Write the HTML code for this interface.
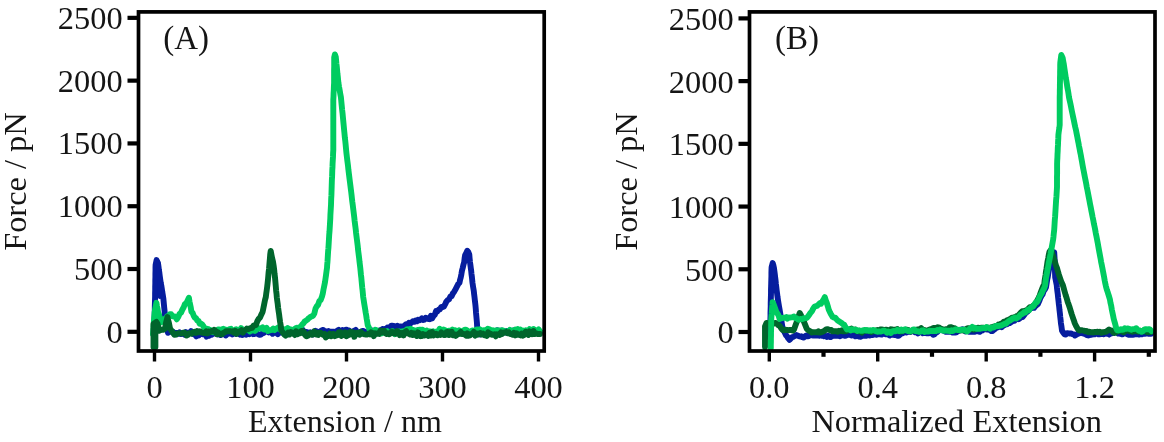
<!DOCTYPE html>
<html><head><meta charset="utf-8"><title>Force extension</title>
<style>html,body{margin:0;padding:0;background:#fff}svg{display:block}</style></head>
<body>
<svg width="1164" height="442" viewBox="0 0 1164 442" font-family="'Liberation Serif', 'Times New Roman', serif" font-size="32.4" fill="#151515">
<rect width="1164" height="442" fill="#fff"/>
<g>
<polyline points="154.2,334.0 154.3,330.6 154.4,327.2 154.4,323.8 154.5,320.4 154.6,317.0 154.7,313.6 154.8,310.2 154.8,306.8 154.9,303.4 155.0,300.0 155.1,296.7 155.1,293.4 155.2,290.2 155.2,286.9 155.3,283.6 155.3,280.4 155.4,277.1 155.4,273.8 155.5,270.5 155.5,267.3 155.6,264.8 156.6,260.1 158.0,263.2 158.5,266.7 158.9,270.1 159.4,273.1 159.8,276.3 160.3,279.8 160.8,283.1 161.3,285.5 161.8,288.6 162.3,292.1 162.8,294.9 163.3,298.1 163.6,301.1 163.9,304.3 164.2,307.5 164.5,310.2 164.8,313.6 165.1,316.5 165.4,319.3 165.7,322.0 166.0,325.0 166.7,326.7 167.3,329.8 168.0,332.8 169.3,330.9 170.6,331.7 171.8,331.6 173.1,331.6 174.4,334.0 175.7,333.0 177.0,332.9 178.2,333.7 179.5,332.4 180.8,334.0 182.1,333.2 183.4,334.0 184.6,334.7 185.9,332.2 187.2,333.4 188.5,333.3 189.8,333.0 191.0,331.1 192.3,333.4 193.6,334.1 194.9,334.5 196.2,336.3 197.4,335.3 198.7,335.5 200.0,332.4 201.3,332.2 202.6,334.2 203.9,333.8 205.2,333.7 206.5,336.6 207.7,335.1 209.0,335.8 210.3,334.9 211.6,334.8 212.9,333.3 214.2,333.6 215.5,332.1 216.8,331.8 218.1,334.4 219.4,333.2 220.6,335.0 221.9,334.2 223.2,334.3 224.5,332.2 225.8,335.4 227.1,333.2 228.4,333.7 229.7,333.2 231.0,333.3 232.3,334.4 233.5,333.7 234.8,332.5 236.1,333.8 237.4,332.5 238.7,333.4 240.0,334.6 241.3,332.6 242.6,335.0 243.9,334.0 245.2,332.5 246.5,334.6 247.8,333.3 249.1,334.1 250.4,331.4 251.7,331.2 253.0,334.2 254.3,334.0 255.7,331.7 257.0,333.8 258.3,334.2 259.6,334.8 260.9,334.6 262.2,333.5 263.5,333.0 264.8,332.1 266.1,331.3 267.4,331.4 268.7,332.4 270.0,331.8 271.3,332.2 272.6,333.7 273.9,331.4 275.2,332.4 276.5,332.9 277.8,334.2 279.1,332.5 280.4,330.7 281.7,332.5 283.0,331.2 284.3,332.9 285.7,331.8 287.0,333.3 288.3,333.3 289.6,333.1 290.9,332.2 292.2,332.0 293.5,333.0 294.8,333.1 296.1,332.9 297.4,332.4 298.7,333.3 300.0,331.8 301.3,329.6 302.6,329.6 303.9,333.2 305.2,332.1 306.5,331.9 307.7,332.4 309.0,334.3 310.3,332.3 311.6,333.9 312.9,334.5 314.2,333.3 315.5,330.9 316.8,331.5 318.1,331.9 319.4,332.5 320.6,331.0 321.9,330.3 323.2,329.9 324.5,331.1 325.8,331.3 327.1,331.7 328.4,331.0 329.7,333.4 331.0,331.8 332.3,331.7 333.5,331.6 334.8,332.0 336.1,331.8 337.4,330.5 338.7,329.8 340.0,331.0 341.3,331.8 342.6,330.2 343.9,331.8 345.2,329.8 346.5,329.6 347.8,331.8 349.1,330.6 350.4,331.9 351.7,331.6 353.0,333.5 354.3,330.8 355.7,329.9 357.0,332.4 358.3,332.4 359.6,332.8 360.9,333.5 362.2,330.9 363.5,330.9 364.8,331.7 366.1,332.7 367.4,332.3 368.7,331.4 370.0,332.4 371.2,331.7 372.5,330.5 373.8,331.2 375.0,331.0 376.2,331.4 377.5,332.1 378.8,331.9 380.0,330.3 381.2,331.6 382.5,329.0 383.8,329.1 385.0,329.0 386.2,329.3 387.5,327.5 388.8,329.5 390.0,328.5 391.2,325.6 392.5,325.6 393.8,326.3 395.0,326.1 396.2,327.5 397.5,326.0 398.8,327.6 400.0,326.5 401.3,326.7 402.6,326.5 403.9,326.2 405.1,324.9 406.4,324.1 407.7,324.5 409.0,322.8 410.3,323.3 411.6,322.6 412.9,321.2 414.2,321.8 415.5,320.5 416.8,321.3 418.0,319.8 419.3,320.4 420.6,319.7 421.9,318.3 423.2,320.0 424.5,319.6 425.8,317.7 427.1,318.2 428.4,319.0 429.6,319.2 430.9,315.8 432.2,318.3 433.5,316.1 434.8,314.7 436.0,311.1 437.3,311.4 438.6,309.7 439.9,309.4 441.3,306.9 442.6,307.1 443.9,306.5 445.2,304.1 446.5,301.4 447.8,300.0 449.1,299.2 450.4,296.5 451.6,296.1 452.9,293.4 454.2,291.7 455.5,289.3 456.9,286.6 458.2,284.1 459.5,282.7 460.1,279.7 460.8,277.2 461.4,274.1 462.0,270.5 462.7,268.0 463.5,264.5 464.2,262.1 464.6,258.3 465.1,255.2 466.2,253.2 467.3,250.7 468.3,252.0 469.3,254.6 469.6,258.2 470.0,262.1 470.4,265.0 470.8,268.2 471.2,271.0 471.5,274.1 471.9,277.0 472.2,280.0 472.5,282.9 473.1,286.9 473.8,291.1 474.1,293.9 474.5,297.2 474.8,299.8 475.2,303.1 475.5,305.9 475.8,309.2 476.0,312.5 476.3,315.8 476.6,319.1 476.9,322.4 477.1,325.7 477.4,329.8 479.0,332.4 480.3,334.5 481.6,333.6 482.9,331.7 484.2,331.5 485.6,331.5 486.9,331.8 488.2,332.7 489.5,330.6 490.8,330.7 492.1,332.8 493.4,331.6 494.8,332.1 496.1,330.9 497.4,330.2 498.7,331.2 500.0,331.2 501.3,330.6 502.6,332.5 503.9,332.1 505.2,332.5 506.5,331.2 507.7,332.8 509.0,330.8 510.3,331.5 511.6,332.6 512.9,330.6 514.2,331.7 515.5,333.7 516.8,333.8 518.1,332.9 519.4,333.1 520.6,333.3 521.9,333.1 523.2,333.3 524.5,331.2 525.8,333.2 527.1,333.5 528.4,333.1 529.7,333.1 531.0,330.6 532.3,333.3 533.5,333.2 534.8,331.1 536.1,331.9 537.4,332.7 538.7,331.5 540.0,332.0" fill="none" stroke="#061d9e" stroke-width="5.9" stroke-linejoin="round" stroke-linecap="round"/>
<polyline points="158.3,262 159.8,297" fill="none" stroke="#061d9e" stroke-width="4" stroke-linecap="round"/>
<polyline points="153.0,334.0 153.2,330.8 153.5,327.7 153.7,324.6 153.9,321.4 154.1,318.3 154.4,315.1 154.6,312.5 155.2,308.8 155.8,305.7 156.4,302.8 156.9,305.8 157.5,308.4 158.0,312.0 159.0,314.6 160.0,318.6 161.0,322.4 162.2,321.3 163.5,321.5 164.8,318.7 166.0,318.9 167.3,316.1 168.7,315.9 170.0,314.1 171.1,314.1 172.3,316.2 173.4,316.1 174.5,316.3 175.7,317.4 176.8,319.3 178.2,317.0 179.6,313.8 181.0,312.7 182.3,309.8 183.7,307.3 185.0,303.9 186.3,303.3 187.6,300.6 188.9,297.8 189.5,301.5 190.2,304.9 190.8,307.7 191.4,311.6 192.6,312.8 193.7,315.7 194.9,317.8 196.1,318.3 197.3,320.5 198.5,321.0 199.7,323.8 200.9,323.5 202.3,324.6 203.6,326.5 205.0,329.6 206.3,328.6 207.7,328.8 209.0,329.6 210.3,329.8 211.6,331.8 212.9,332.2 214.1,331.2 215.4,330.6 216.7,330.5 218.0,329.4 219.3,329.4 220.6,329.9 221.9,329.5 223.1,328.9 224.4,331.7 225.7,329.7 227.0,330.5 228.3,329.8 229.6,329.1 230.9,328.8 232.1,330.6 233.4,330.4 234.7,330.2 236.0,329.3 237.3,331.8 238.6,330.2 239.9,330.5 241.1,328.1 242.4,329.8 243.7,329.9 245.0,330.2 246.2,329.5 247.5,329.4 248.8,330.4 250.0,331.4 251.2,329.1 252.5,330.4 253.8,329.1 255.0,330.8 256.2,330.0 257.5,327.9 258.8,328.1 260.0,328.6 261.3,328.4 262.6,327.3 263.9,329.5 265.3,329.2 266.6,327.9 267.9,331.0 269.2,330.1 270.5,330.2 271.9,329.9 273.2,328.6 274.5,330.0 275.8,328.8 277.1,328.4 278.4,327.4 279.8,329.4 281.1,328.0 282.4,328.9 283.7,329.1 285.0,330.2 286.3,329.5 287.6,328.2 289.0,329.8 290.3,329.3 291.6,329.6 292.9,330.5 294.2,329.5 295.6,328.3 296.9,327.8 298.2,328.3 299.5,327.2 300.8,326.6 302.1,324.7 303.4,323.4 304.7,321.5 306.0,320.6 307.4,319.6 308.8,318.2 310.2,317.1 311.6,316.3 313.0,315.9 314.3,313.6 315.5,308.6 316.8,306.2 318.1,304.7 319.4,300.9 320.7,300.0 322.0,296.5 322.8,293.4 323.5,289.5 324.2,286.2 325.0,282.2 325.5,278.7 326.0,275.3 326.5,271.3 327.0,267.9 327.2,264.7 327.5,261.4 327.7,258.1 327.9,254.8 328.1,251.6 328.4,248.3 328.6,245.1 328.8,241.6 329.0,238.4 329.2,235.0 329.5,231.6 329.7,228.3 329.9,225.0 330.1,221.7 330.3,218.3 330.4,215.0 330.6,211.6 330.8,208.3 331.0,205.0 331.1,201.8 331.2,198.6 331.4,195.4 331.5,192.3 331.6,189.1 331.7,185.9 331.8,182.7 331.9,179.5 332.1,176.4 332.2,173.2 332.3,170.0 332.5,166.7 332.6,163.4 332.8,160.0 333.0,156.7 333.1,153.3 333.3,150.0 333.3,146.7 333.3,143.3 333.3,140.0 333.3,136.7 333.3,133.3 333.3,130.0 333.3,126.7 333.3,123.3 333.3,120.0 333.3,116.7 333.3,113.3 333.3,110.0 333.3,106.7 333.3,103.3 333.3,100.0 333.5,96.5 333.6,93.2 333.8,89.8 333.9,86.4 334.1,83.0 334.1,79.8 334.1,76.5 334.1,73.3 334.1,70.0 334.2,66.7 334.2,63.5 334.2,60.2 334.2,57.4 334.9,54.4 335.8,57.0 336.1,60.3 336.4,63.6 336.8,66.9 337.1,70.0 337.4,73.4 337.8,76.7 338.1,79.7 338.4,82.7 339.0,86.5 339.6,89.7 340.3,93.9 340.9,97.1 341.2,100.3 341.5,103.4 341.8,106.4 342.1,109.5 342.5,112.8 342.8,116.0 343.1,119.3 343.4,122.4 343.7,125.5 344.0,128.8 344.3,131.7 344.6,134.9 344.9,138.2 345.3,141.2 345.6,144.3 345.9,147.6 346.2,150.8 346.5,153.6 346.9,157.0 347.3,160.3 347.7,163.3 348.1,166.7 348.4,169.7 348.8,172.8 349.2,176.2 349.6,179.3 350.0,182.5 350.4,185.6 350.8,188.8 351.2,192.0 351.6,195.3 351.9,198.2 352.3,201.7 352.7,204.6 353.1,207.8 353.5,211.1 353.9,214.3 354.3,217.6 354.6,220.6 355.0,223.8 355.4,226.8 355.8,230.1 356.1,233.1 356.5,236.3 356.9,239.5 357.3,242.7 357.7,245.8 358.0,249.2 358.4,252.4 358.8,255.5 359.2,258.6 359.5,261.7 359.9,264.9 360.3,268.1 360.6,271.2 360.9,274.4 361.3,277.5 361.6,281.0 361.9,284.1 362.2,287.3 362.6,290.7 362.9,294.0 363.2,297.1 363.7,300.3 364.2,303.5 364.7,306.4 365.2,309.4 365.7,312.7 366.2,315.5 366.7,319.0 367.2,321.7 367.7,325.1 368.9,327.5 370.0,330.9 371.3,333.1 372.6,331.3 373.9,332.0 375.3,329.8 376.6,330.3 377.9,332.6 379.2,331.9 380.5,331.0 381.8,333.3 383.2,332.4 384.5,331.9 385.8,331.7 387.1,331.1 388.4,333.6 389.7,332.8 391.1,332.6 392.4,331.1 393.7,332.0 395.0,334.1 396.3,332.5 397.6,331.9 398.9,331.4 400.3,331.9 401.6,331.6 402.9,331.2 404.2,331.6 405.5,330.5 406.8,329.4 408.2,329.1 409.5,330.4 410.8,328.8 412.1,331.9 413.4,330.0 414.7,331.0 416.1,330.7 417.4,330.0 418.7,330.1 420.0,329.6 421.3,329.8 422.6,329.6 423.9,332.0 425.2,331.5 426.5,330.6 427.8,332.7 429.1,331.3 430.4,331.5 431.7,331.6 433.0,331.3 434.3,332.6 435.7,331.8 437.0,331.7 438.3,331.4 439.6,328.7 440.9,330.5 442.2,332.2 443.5,329.6 444.8,330.0 446.1,331.1 447.4,331.7 448.7,330.7 450.0,330.7 451.3,332.4 452.6,329.6 453.9,330.9 455.2,330.2 456.5,331.3 457.8,331.7 459.1,330.3 460.4,333.6 461.7,332.8 463.0,330.8 464.3,330.0 465.7,329.7 467.0,330.4 468.3,331.7 469.6,332.7 470.9,331.4 472.2,330.5 473.5,330.7 474.8,332.7 476.1,329.7 477.4,329.5 478.7,331.4 480.0,329.4 481.3,330.2 482.6,331.4 483.9,330.1 485.2,330.4 486.5,330.2 487.8,328.7 489.1,329.2 490.4,329.9 491.7,332.6 493.0,330.2 494.3,330.7 495.7,330.8 497.0,330.2 498.3,330.6 499.6,330.5 500.9,330.6 502.2,330.2 503.5,330.8 504.8,331.7 506.1,331.8 507.4,331.2 508.7,332.6 510.0,329.9 511.3,330.7 512.6,332.1 513.9,330.4 515.2,329.5 516.5,330.5 517.8,329.1 519.1,331.0 520.4,329.6 521.7,331.3 523.0,330.5 524.3,331.3 525.7,330.3 527.0,332.0 528.3,331.1 529.6,329.2 530.9,331.3 532.2,331.8 533.5,329.0 534.8,330.9 536.1,330.2 537.4,331.0 538.7,329.5 540.0,331.2" fill="none" stroke="#00cc60" stroke-width="5.9" stroke-linejoin="round" stroke-linecap="round"/>
<polyline points="155.4,347.0 155.4,343.6 155.4,340.2 155.4,336.8 155.4,333.4 155.4,330.1 155.0,333.0 154.6,336.5 154.3,339.8 153.9,343.5 153.5,347.0 153.5,343.5 153.5,340.0 153.5,336.5 153.5,333.0 153.5,329.5 153.5,323.9 155.3,322.7 156.4,321.9 157.5,323.8 158.2,326.5 159.0,330.8 160.5,330.1 162.0,329.7 163.5,329.8 165.0,328.6 165.6,325.2 166.2,322.0 166.9,319.4 167.5,317.0 168.1,320.0 168.8,322.3 169.4,325.3 170.0,328.4 171.5,330.6 173.0,332.7 174.5,334.9 176.0,334.7 177.3,333.6 178.7,333.2 180.0,333.3 181.3,333.5 182.6,332.9 183.9,332.5 185.3,333.2 186.6,335.5 187.9,334.9 189.2,333.2 190.5,333.1 191.8,333.7 193.2,332.3 194.5,331.8 195.8,332.8 197.1,331.2 198.4,332.2 199.7,331.2 201.1,332.2 202.4,332.7 203.7,333.0 205.0,333.1 206.3,331.4 207.6,333.4 208.9,331.6 210.3,332.0 211.6,330.9 212.9,331.5 214.2,329.8 215.5,330.9 216.8,334.3 218.2,332.3 219.5,334.4 220.8,334.1 222.1,334.2 223.4,332.8 224.7,332.6 226.1,331.1 227.4,331.1 228.7,331.2 230.0,331.2 231.3,331.5 232.6,331.3 233.9,332.7 235.2,330.8 236.5,333.9 237.8,332.5 239.1,331.5 240.4,331.8 241.7,330.2 243.0,332.6 244.3,330.8 245.6,330.0 246.9,328.6 248.2,329.3 249.5,328.5 250.8,328.0 252.1,327.8 253.4,325.8 254.7,325.2 256.0,325.0 257.3,321.3 258.6,319.0 260.0,317.7 261.3,314.6 262.6,312.0 263.4,308.1 264.2,304.1 265.0,300.0 265.8,297.1 266.2,293.8 266.7,290.3 267.2,286.6 267.6,283.1 268.0,279.4 268.3,275.9 268.6,272.3 269.0,269.1 269.3,265.5 269.6,261.8 269.9,258.4 270.2,254.4 270.7,250.9 271.5,255.1 272.2,258.5 273.0,261.8 273.6,265.5 274.2,269.9 274.5,273.4 274.9,276.5 275.2,279.6 275.5,282.9 275.8,286.4 276.1,290.3 276.5,293.6 276.8,297.3 277.2,300.3 277.7,303.9 278.1,307.6 278.6,311.2 279.1,314.4 279.5,317.7 280.1,322.0 280.7,325.3 281.3,330.4 283.0,332.8 284.3,334.5 285.6,335.7 286.9,334.4 288.2,332.6 289.5,334.5 290.8,332.1 292.2,332.5 293.5,333.7 294.8,335.0 296.1,331.2 297.4,334.2 298.7,333.4 300.0,333.4 301.3,331.0 302.6,331.0 303.9,331.9 305.2,335.1 306.5,336.3 307.7,335.8 309.0,334.2 310.3,333.2 311.6,334.7 312.9,334.6 314.2,331.4 315.5,332.4 316.8,334.7 318.1,335.0 319.4,332.7 320.6,332.7 321.9,333.9 323.2,334.9 324.5,333.9 325.8,337.5 327.1,335.5 328.4,335.9 329.7,333.6 331.0,336.3 332.3,335.4 333.5,333.9 334.8,336.1 336.1,335.4 337.4,335.4 338.7,332.4 340.0,332.0 341.3,335.9 342.6,333.4 343.9,335.0 345.2,332.3 346.5,336.2 347.8,333.3 349.1,335.0 350.4,331.7 351.7,333.9 353.0,332.5 354.3,336.8 355.6,334.3 356.9,332.6 358.2,332.8 359.5,334.7 360.8,331.9 362.1,333.3 363.4,334.0 364.7,334.4 366.0,334.6 367.3,334.6 368.6,333.5 369.9,334.3 371.2,332.3 372.5,333.0 373.8,336.1 375.1,333.3 376.4,334.0 377.7,333.3 379.0,333.9 380.3,330.8 381.6,330.8 382.9,332.2 384.2,331.0 385.5,333.2 386.8,334.1 388.1,333.3 389.4,334.2 390.6,333.3 391.9,331.7 393.2,333.2 394.5,332.4 395.8,333.7 397.1,331.1 398.4,332.2 399.7,335.1 401.0,333.1 402.3,332.9 403.6,335.4 404.9,332.1 406.2,331.1 407.5,333.1 408.8,333.7 410.1,334.5 411.4,332.9 412.7,335.0 414.0,333.4 415.3,334.4 416.6,335.9 417.9,332.4 419.2,333.4 420.5,336.2 421.8,336.0 423.1,334.2 424.4,335.4 425.7,334.6 427.0,334.5 428.3,335.9 429.6,332.8 430.9,335.5 432.2,332.0 433.5,335.5 434.8,334.4 436.1,333.7 437.4,335.2 438.7,334.3 440.0,335.0 441.3,332.4 442.6,333.6 443.9,335.0 445.2,335.0 446.5,332.1 447.8,331.9 449.1,335.0 450.4,332.1 451.7,331.7 453.0,335.3 454.3,334.3 455.6,335.8 456.9,334.8 458.2,334.1 459.5,333.2 460.8,332.0 462.1,334.1 463.4,333.8 464.7,334.5 466.0,335.6 467.3,333.3 468.6,335.8 469.9,335.4 471.2,334.1 472.5,333.7 473.8,331.9 475.1,335.6 476.4,333.3 477.7,334.6 479.0,333.6 480.3,333.0 481.6,334.5 482.9,333.6 484.2,335.2 485.5,334.6 486.8,335.9 488.1,332.3 489.4,334.3 490.6,333.7 491.9,334.9 493.2,334.6 494.5,334.2 495.8,336.3 497.1,334.2 498.4,334.6 499.7,335.0 501.0,332.4 502.3,333.8 503.6,332.7 504.9,332.4 506.2,331.9 507.5,333.2 508.8,332.4 510.1,334.0 511.4,334.1 512.7,334.7 514.0,332.8 515.3,335.3 516.6,333.3 517.9,334.9 519.2,334.8 520.5,335.4 521.8,333.5 523.1,335.6 524.4,334.7 525.7,331.7 527.0,333.4 528.3,334.9 529.6,331.4 530.9,332.5 532.2,334.2 533.5,331.0 534.8,334.0 536.1,333.2 537.4,334.0 538.7,333.9 540.0,334.0" fill="none" stroke="#00652c" stroke-width="5.9" stroke-linejoin="round" stroke-linecap="round"/>
</g><g>
<polyline points="770.0,338.0 770.1,334.8 770.1,331.7 770.2,328.5 770.3,325.3 770.3,322.2 770.4,319.0 770.5,315.8 770.5,312.7 770.6,309.5 770.7,306.3 770.7,303.2 770.8,300.0 770.9,296.6 771.0,293.2 771.0,289.8 771.1,286.4 771.2,283.0 771.3,279.6 771.4,276.2 771.4,272.8 771.5,269.4 771.6,267.2 772.7,263.0 773.4,265.4 774.0,268.1 774.4,271.2 774.8,274.2 775.2,277.5 775.6,280.7 775.9,283.9 776.3,287.2 776.7,290.5 777.1,293.6 777.5,296.8 778.0,300.1 778.5,303.2 779.0,306.2 779.5,309.0 780.0,311.9 780.5,314.9 781.0,318.3 781.5,321.4 782.0,324.6 782.5,327.4 783.7,330.6 784.8,332.7 786.0,335.2 787.2,336.5 788.3,338.4 789.5,339.8 790.9,338.4 792.2,337.1 793.6,336.8 795.0,335.7 796.2,335.0 797.5,335.5 798.8,336.1 800.0,336.5 801.2,336.3 802.5,337.2 803.8,337.6 805.0,336.3 806.2,335.6 807.5,336.4 808.8,336.1 810.0,335.3 811.3,334.8 812.6,335.6 813.9,335.4 815.2,335.6 816.5,335.5 817.7,335.4 819.0,335.8 820.3,334.9 821.6,335.7 822.9,335.3 824.2,336.2 825.5,336.0 826.8,337.0 828.1,335.7 829.4,336.8 830.6,337.1 831.9,336.2 833.2,335.0 834.5,335.8 835.8,335.5 837.1,335.8 838.4,335.5 839.7,336.3 841.0,335.8 842.3,335.3 843.5,335.3 844.8,335.9 846.1,335.6 847.4,335.1 848.7,334.3 850.0,334.8 851.3,335.6 852.7,335.2 854.0,335.4 855.3,336.3 856.7,336.1 858.0,335.9 859.3,336.7 860.7,336.9 862.0,335.7 863.3,335.5 864.7,335.9 866.0,335.9 867.3,335.1 868.7,335.3 870.0,335.5 871.3,334.7 872.6,335.0 873.9,334.5 875.2,333.1 876.5,334.8 877.8,334.3 879.1,334.3 880.4,334.3 881.7,334.6 883.0,333.7 884.3,333.7 885.7,334.3 887.0,333.8 888.3,334.4 889.6,335.5 890.9,334.3 892.2,334.7 893.5,334.7 894.8,335.1 896.1,334.8 897.4,335.7 898.7,335.8 900.0,334.6 901.3,333.6 902.6,333.4 903.8,332.6 905.1,332.0 906.4,332.5 907.7,332.0 908.9,330.9 910.2,331.9 911.5,331.5 912.8,331.0 914.0,331.6 915.3,332.4 916.6,332.2 917.9,333.5 919.1,332.5 920.4,331.5 921.7,332.0 923.0,333.3 924.2,332.6 925.5,333.1 926.8,333.2 928.1,333.4 929.4,332.9 930.7,332.8 932.0,333.5 933.2,334.8 934.5,334.2 935.8,332.8 937.1,332.1 938.4,330.8 939.7,329.5 941.0,329.6 942.3,330.3 943.6,330.8 944.9,331.4 946.2,331.9 947.4,331.8 948.7,331.5 950.0,331.8 951.3,331.9 952.6,332.6 953.9,332.4 955.2,332.5 956.5,332.3 957.8,331.2 959.0,330.7 960.3,330.3 961.6,329.4 962.9,329.3 964.2,330.0 965.5,331.4 966.8,330.5 968.1,330.9 969.4,331.9 970.7,331.9 972.0,330.8 973.2,331.7 974.5,331.8 975.8,331.1 977.1,331.4 978.4,331.1 979.7,331.8 981.0,330.8 982.3,330.5 983.6,329.3 984.8,328.3 986.1,329.3 987.4,329.5 988.7,329.4 990.0,330.1 991.3,331.0 992.6,331.0 993.9,329.7 995.2,328.8 996.5,327.2 997.8,327.3 999.0,326.7 1000.3,326.2 1001.6,327.2 1002.9,326.1 1004.2,325.3 1005.6,324.3 1007.0,324.3 1008.4,323.0 1009.7,323.1 1011.1,322.1 1012.5,321.3 1013.6,319.8 1014.8,320.6 1016.0,319.0 1017.1,319.0 1018.5,319.2 1019.9,318.3 1021.2,316.8 1022.6,317.1 1024.0,315.2 1025.4,313.3 1026.6,312.2 1027.9,311.3 1029.1,309.3 1030.3,308.5 1031.5,308.2 1032.8,307.7 1034.0,307.9 1035.3,306.2 1036.6,305.2 1037.9,304.0 1039.2,301.1 1040.3,298.2 1041.5,295.9 1042.6,294.3 1043.7,291.0 1044.9,289.5 1046.0,287.2 1046.6,283.5 1047.2,279.6 1047.8,276.8 1048.3,273.4 1048.8,270.8 1049.4,267.9 1050.0,265.2 1050.5,262.6 1051.8,258.9 1053.0,254.3 1054.2,252.3 1054.4,255.5 1054.6,258.7 1054.8,262.0 1054.9,265.2 1055.0,268.4 1055.0,271.6 1055.1,274.8 1055.2,277.5 1056.0,281.4 1056.7,284.8 1057.0,288.1 1057.4,291.4 1057.8,294.4 1058.1,297.5 1058.5,300.8 1058.8,303.8 1059.2,307.0 1059.5,310.2 1059.9,313.4 1060.2,316.5 1060.6,319.8 1060.9,323.1 1061.5,326.8 1062.0,330.7 1063.2,332.5 1064.5,334.3 1065.8,334.5 1067.1,333.1 1068.4,333.4 1069.8,333.5 1071.1,333.5 1072.4,334.1 1073.7,334.4 1075.0,335.6 1076.3,334.8 1077.6,333.9 1079.0,333.4 1080.3,333.1 1081.6,332.1 1082.9,333.4 1084.2,333.8 1085.5,334.1 1086.9,335.2 1088.2,335.5 1089.5,335.1 1090.8,334.9 1092.1,334.5 1093.4,334.3 1094.7,334.3 1096.1,333.3 1097.4,333.0 1098.7,334.4 1100.0,334.3 1101.3,333.9 1102.6,334.0 1103.9,334.3 1105.2,333.5 1106.5,333.7 1107.8,333.4 1109.2,334.6 1110.5,333.5 1111.8,333.3 1113.1,332.8 1114.4,332.1 1115.7,330.8 1117.0,332.3 1118.3,333.6 1119.6,333.6 1120.9,334.0 1122.2,334.4 1123.5,333.6 1124.8,333.3 1126.2,333.0 1127.5,334.3 1128.8,334.9 1130.1,334.8 1131.4,334.9 1132.7,334.8 1134.0,334.6 1135.3,333.4 1136.6,334.4 1137.9,333.9 1139.2,334.6 1140.5,334.1 1141.8,334.3 1143.2,333.6 1144.5,333.9 1145.8,333.5 1147.1,333.3 1148.4,333.7 1149.7,333.8 1151.0,333.8" fill="none" stroke="#061d9e" stroke-width="5.9" stroke-linejoin="round" stroke-linecap="round"/>
<polyline points="765.0,347.0 765.0,343.5 765.0,340.0 765.0,336.5 765.0,333.0 765.0,329.5 765.0,326.5 766.5,323.0 767.9,323.2 769.2,323.3 770.6,322.5 772.0,323.7 773.3,323.7 774.5,323.2 775.8,322.9 777.1,323.9 778.5,325.3 779.8,325.9 781.2,328.3 782.5,329.8 783.8,330.4 785.1,329.6 786.3,330.0 787.6,330.0 788.9,330.3 790.2,329.9 791.4,330.0 792.7,330.6 794.0,329.6 795.5,325.3 797.0,321.2 797.9,318.5 798.8,315.6 799.7,313.0 801.1,315.5 802.5,318.9 803.9,321.6 805.4,325.4 806.8,328.9 808.1,330.1 809.4,330.8 810.6,331.6 811.9,332.5 813.2,332.1 814.5,332.4 815.8,332.2 817.1,332.4 818.4,331.3 819.7,332.6 821.0,332.3 822.2,331.9 823.5,331.3 824.8,330.5 826.1,329.3 827.4,329.1 828.7,329.5 830.0,330.2 831.3,330.0 832.6,331.4 833.8,331.2 835.1,331.3 836.4,331.1 837.7,331.7 839.0,330.8 840.4,331.1 841.8,330.3 843.1,331.4 844.5,331.2 845.9,331.3 847.2,330.8 848.6,329.8 850.0,329.2 851.3,328.6 852.6,329.7 853.9,330.1 855.3,329.6 856.6,331.2 857.9,331.2 859.2,330.7 860.5,331.6 861.8,332.6 863.2,330.8 864.5,331.0 865.8,330.5 867.1,330.5 868.4,330.9 869.7,330.9 871.1,332.0 872.4,331.5 873.7,331.2 875.0,331.1 876.3,330.5 877.6,329.9 878.9,330.8 880.3,329.5 881.6,329.4 882.9,329.6 884.2,330.2 885.5,329.6 886.8,329.6 888.2,330.7 889.5,330.4 890.8,329.2 892.1,329.8 893.4,329.6 894.7,329.7 896.1,329.6 897.4,329.1 898.7,330.4 900.0,331.6 901.3,330.9 902.6,331.3 903.9,330.5 905.3,330.0 906.6,329.6 907.9,329.8 909.2,330.5 910.5,331.6 911.8,330.6 913.2,330.4 914.5,330.7 915.8,329.9 917.1,329.5 918.4,329.5 919.7,329.1 921.1,328.1 922.4,329.4 923.7,329.8 925.0,330.3 926.3,331.0 927.6,330.6 928.9,329.7 930.2,329.3 931.5,329.3 932.7,328.3 934.0,327.9 935.3,327.9 936.6,327.9 937.9,327.2 939.2,327.6 940.5,328.7 941.8,328.9 943.1,329.9 944.4,330.0 945.6,329.2 946.9,329.3 948.2,328.8 949.5,327.4 950.8,327.1 952.1,327.5 953.4,328.4 954.7,328.1 956.0,329.6 957.2,330.2 958.5,330.2 959.8,330.4 961.1,330.5 962.4,330.2 963.7,330.6 965.0,330.6 966.3,329.0 967.6,328.1 968.9,328.6 970.2,328.4 971.4,329.2 972.7,329.5 974.0,329.6 975.3,329.2 976.6,328.3 977.9,327.7 979.2,327.9 980.5,328.1 981.8,327.6 983.0,327.6 984.3,328.0 985.6,328.3 986.9,327.6 988.2,327.7 989.5,328.0 990.8,327.5 992.1,327.0 993.4,326.7 994.7,326.3 996.0,326.3 997.2,326.4 998.5,324.6 999.8,325.3 1001.1,323.7 1002.4,323.4 1003.8,321.8 1005.2,322.2 1006.6,320.6 1007.9,320.1 1009.3,319.4 1010.7,318.7 1011.9,317.6 1013.0,317.7 1014.2,317.2 1015.3,317.1 1016.7,316.0 1018.1,316.0 1019.5,314.0 1020.8,312.7 1022.2,311.3 1023.6,311.4 1024.8,310.7 1026.1,310.6 1027.3,309.7 1028.5,308.5 1029.7,307.3 1031.0,307.3 1032.2,306.6 1033.5,305.4 1034.8,304.8 1036.1,302.6 1037.4,300.2 1038.5,298.1 1039.7,295.5 1040.8,292.2 1041.9,289.3 1043.1,286.3 1044.2,284.9 1044.6,280.7 1045.1,277.7 1045.6,274.6 1046.0,271.4 1046.5,268.5 1047.0,265.1 1047.5,261.7 1048.2,258.3 1048.8,254.7 1049.5,251.7 1050.5,250.4 1051.5,250.8 1052.5,254.2 1053.5,257.1 1054.3,260.0 1055.2,262.8 1056.0,265.5 1057.0,268.1 1057.9,271.3 1058.8,274.4 1059.8,277.4 1061.2,281.4 1062.7,284.7 1063.7,288.1 1064.7,291.7 1065.7,295.3 1066.7,298.3 1067.7,301.9 1068.7,304.6 1069.7,307.5 1070.7,310.8 1071.7,314.1 1072.7,317.1 1073.7,319.9 1074.7,323.0 1076.1,326.1 1077.5,328.5 1078.8,330.0 1080.0,330.6 1081.3,330.1 1082.6,330.4 1084.0,330.6 1085.3,331.3 1086.6,331.0 1087.9,332.2 1089.2,331.8 1090.5,332.4 1091.9,332.1 1093.2,332.5 1094.5,331.9 1095.8,332.2 1097.1,331.7 1098.5,332.1 1099.8,331.7 1101.1,332.8 1102.4,332.1 1103.7,332.2 1105.0,331.9 1106.4,331.6 1107.7,330.4 1109.0,329.6 1110.3,330.4 1111.6,330.5 1112.9,331.9 1114.2,333.0 1115.6,332.7 1116.9,331.4 1118.2,330.9 1119.5,331.2 1120.8,331.3 1122.1,331.1 1123.4,332.3 1124.8,331.6 1126.1,330.7 1127.4,330.0 1128.7,330.6 1130.0,331.3 1131.3,331.1 1132.6,331.7 1133.9,331.4 1135.2,330.9 1136.6,330.7 1137.9,331.8 1139.2,331.2 1140.5,330.8 1141.8,331.3 1143.1,331.6 1144.4,330.0 1145.8,330.8 1147.1,332.2 1148.4,331.1 1149.7,332.2 1151.0,332.0" fill="none" stroke="#00652c" stroke-width="5.9" stroke-linejoin="round" stroke-linecap="round"/>
<polyline points="770.8,348.0 770.8,344.9 770.9,341.8 770.9,338.7 771.0,335.6 771.0,332.4 771.1,329.3 771.1,326.2 771.2,323.1 771.2,320.0 771.4,316.9 771.7,314.0 771.9,311.0 772.1,308.0 772.4,305.0 772.6,302.1 773.8,304.7 775.0,308.0 776.2,311.4 777.4,313.4 778.5,315.3 779.7,319.0 781.0,318.2 782.3,318.0 783.6,317.8 784.9,317.7 786.2,317.1 787.4,318.7 788.7,317.5 790.0,317.6 791.3,317.3 792.6,317.1 793.9,316.6 795.2,318.0 796.5,318.1 797.7,319.2 799.0,319.8 800.3,319.0 801.6,319.2 802.9,318.9 804.2,318.2 805.5,318.1 806.8,318.0 808.1,316.4 809.4,314.5 810.6,312.7 811.9,311.3 813.2,308.6 814.5,306.7 815.8,306.1 817.1,305.8 818.4,304.6 819.7,303.3 821.0,303.8 822.3,301.6 823.5,299.7 824.8,297.1 825.8,300.3 826.8,302.8 827.7,305.8 828.7,309.5 830.0,312.4 831.3,314.8 832.6,316.9 833.9,317.5 835.2,317.6 836.5,319.2 837.7,320.5 839.0,321.4 840.3,322.1 841.6,323.0 842.9,324.2 844.2,324.8 845.5,327.1 846.8,329.4 848.1,328.9 849.4,329.5 850.7,330.5 852.0,329.2 853.3,329.7 854.6,329.7 855.9,329.7 857.2,331.0 858.5,330.5 859.8,330.5 861.1,330.8 862.4,330.8 863.7,330.2 865.0,330.0 866.3,330.6 867.6,330.1 868.9,330.8 870.2,330.2 871.5,330.8 872.8,330.0 874.1,330.2 875.4,330.9 876.6,331.5 877.9,331.8 879.2,331.4 880.5,331.6 881.8,331.2 883.1,330.7 884.4,330.8 885.7,331.4 887.0,332.7 888.3,331.6 889.6,332.4 890.9,333.0 892.2,331.5 893.5,330.9 894.8,331.4 896.1,330.9 897.4,329.9 898.7,331.0 900.0,330.8 901.3,329.6 902.6,330.8 903.9,329.8 905.2,329.3 906.5,330.3 907.7,331.0 909.0,330.5 910.3,331.2 911.6,330.9 912.9,329.7 914.2,329.4 915.5,331.1 916.8,331.2 918.1,331.2 919.3,331.9 920.6,331.7 921.9,330.5 923.2,330.3 924.5,332.0 925.8,331.5 927.1,331.4 928.4,331.6 929.7,330.7 931.0,331.1 932.2,331.0 933.5,330.9 934.8,331.0 936.1,331.2 937.4,330.0 938.7,330.5 940.0,329.5 941.3,330.3 942.6,330.3 943.9,330.9 945.2,330.4 946.4,330.6 947.7,330.9 949.0,330.7 950.3,331.3 951.6,330.2 952.9,331.1 954.2,330.3 955.5,329.4 956.8,329.5 958.0,330.1 959.3,329.7 960.6,330.1 961.9,329.6 963.2,329.7 964.5,329.8 965.8,330.7 967.1,331.5 968.4,330.4 969.7,328.8 971.0,328.2 972.2,326.9 973.5,328.4 974.8,327.7 976.1,328.7 977.4,328.7 978.7,328.7 980.0,328.8 981.3,328.2 982.6,328.2 983.8,327.9 985.1,328.3 986.4,327.0 987.7,327.6 989.0,328.1 990.3,328.7 991.6,327.4 992.9,327.6 994.2,327.2 995.5,326.1 996.8,325.8 998.0,326.0 999.3,325.8 1000.6,325.5 1001.9,325.3 1003.2,324.5 1004.6,323.7 1006.0,323.8 1007.4,322.3 1008.7,321.2 1010.1,320.5 1011.5,319.6 1012.6,318.5 1013.8,318.6 1015.0,317.6 1016.1,318.5 1017.5,317.5 1018.9,316.9 1020.2,314.9 1021.6,314.3 1023.0,313.3 1024.4,312.0 1025.6,312.4 1026.9,310.9 1028.1,309.7 1029.3,310.2 1030.5,308.0 1031.8,307.0 1033.0,306.7 1034.3,304.7 1035.6,302.6 1036.9,302.2 1038.2,300.0 1039.3,297.5 1040.5,295.1 1041.6,293.5 1042.7,290.9 1043.9,288.8 1045.0,286.0 1045.5,282.2 1046.0,278.0 1046.7,274.6 1047.3,271.2 1048.0,267.9 1048.6,264.1 1049.2,260.8 1049.9,257.4 1050.5,254.3 1051.0,251.1 1051.6,248.1 1052.1,245.4 1052.6,242.5 1053.1,239.8 1053.5,236.6 1053.8,233.3 1054.2,229.9 1054.4,226.7 1054.6,223.4 1054.8,220.1 1055.1,216.7 1055.3,213.5 1055.5,210.2 1055.7,206.8 1055.9,203.6 1056.1,200.3 1056.4,197.0 1056.6,193.7 1056.8,190.4 1057.0,187.0 1057.0,183.7 1057.0,180.4 1057.0,177.1 1057.1,173.9 1057.1,170.6 1057.1,167.3 1057.1,164.0 1057.2,160.8 1057.4,157.5 1057.5,154.3 1057.7,151.1 1057.8,147.9 1058.0,144.7 1058.1,141.5 1058.3,138.2 1058.4,134.9 1058.8,131.5 1059.3,128.3 1059.7,125.0 1059.7,121.9 1059.7,118.8 1059.7,115.7 1059.7,112.6 1059.7,109.4 1059.7,106.3 1059.7,103.2 1059.7,100.1 1059.7,97.0 1059.8,93.8 1059.8,90.6 1059.9,87.5 1059.9,84.3 1060.0,81.1 1060.0,77.9 1060.1,74.7 1060.1,71.6 1060.2,68.4 1060.2,65.2 1060.3,62.3 1060.8,58.6 1061.3,55.0 1062.7,58.0 1063.2,61.1 1063.8,64.1 1064.3,67.6 1064.8,71.0 1065.3,74.2 1065.8,77.9 1066.4,81.0 1066.9,84.2 1067.4,87.6 1068.0,90.6 1068.5,93.7 1069.0,97.3 1069.7,100.5 1070.4,103.6 1071.1,107.1 1071.8,110.7 1072.5,114.0 1073.2,117.4 1073.9,120.7 1074.6,124.2 1075.3,127.4 1076.0,130.2 1076.6,133.4 1077.2,136.4 1077.8,139.6 1078.4,142.6 1079.0,146.0 1079.6,148.9 1080.2,152.1 1080.8,155.0 1081.4,158.4 1082.0,161.7 1082.6,165.2 1083.2,168.5 1083.8,171.5 1084.4,174.6 1085.0,177.7 1085.6,180.7 1086.2,183.8 1086.8,187.1 1087.4,190.0 1088.1,193.6 1088.7,196.9 1089.4,200.4 1090.0,203.7 1090.7,207.2 1091.3,210.4 1092.0,213.8 1092.6,217.0 1093.3,220.3 1093.9,223.7 1094.6,226.8 1095.2,229.9 1095.8,233.3 1096.4,236.2 1097.0,239.3 1097.6,242.3 1098.2,245.8 1098.8,249.1 1099.4,252.4 1100.0,255.6 1100.6,258.8 1101.1,261.8 1101.7,264.7 1102.3,267.6 1102.9,270.8 1103.5,273.8 1104.1,277.0 1104.7,280.5 1105.3,283.5 1105.9,286.2 1106.9,289.9 1107.9,292.8 1108.9,296.0 1109.9,299.3 1110.5,302.9 1111.2,305.8 1111.8,309.5 1112.4,312.4 1113.1,315.6 1113.7,318.8 1114.5,321.6 1115.3,324.4 1116.2,327.9 1117.0,330.1 1118.3,330.5 1119.6,330.2 1120.9,329.2 1122.1,329.8 1123.4,329.6 1124.7,328.3 1126.0,328.9 1127.3,328.4 1128.6,328.7 1129.9,329.1 1131.1,329.7 1132.4,329.1 1133.7,329.1 1135.0,328.9 1136.3,328.2 1137.6,329.6 1139.0,330.7 1140.3,330.8 1141.6,331.7 1143.0,331.1 1144.4,329.6 1145.9,329.1 1147.3,329.3 1148.7,329.1 1150.0,329.6 1151.3,331.0" fill="none" stroke="#00cc60" stroke-width="5.9" stroke-linejoin="round" stroke-linecap="round"/>
</g>
<rect x="138.50" y="11.90" width="405.70" height="339.10" fill="none" stroke="#000" stroke-width="3.7"/>
<line x1="127.50" y1="331.80" x2="138.50" y2="331.80" stroke="#000" stroke-width="4.2"/>
<text x="122.60" y="342.70" text-anchor="end">0</text>
<line x1="127.50" y1="269.01" x2="138.50" y2="269.01" stroke="#000" stroke-width="4.2"/>
<text x="122.60" y="279.91" text-anchor="end">500</text>
<line x1="127.50" y1="206.22" x2="138.50" y2="206.22" stroke="#000" stroke-width="4.2"/>
<text x="122.60" y="217.12" text-anchor="end">1000</text>
<line x1="127.50" y1="143.43" x2="138.50" y2="143.43" stroke="#000" stroke-width="4.2"/>
<text x="122.60" y="154.33" text-anchor="end">1500</text>
<line x1="127.50" y1="80.64" x2="138.50" y2="80.64" stroke="#000" stroke-width="4.2"/>
<text x="122.60" y="91.54" text-anchor="end">2000</text>
<line x1="127.50" y1="17.85" x2="138.50" y2="17.85" stroke="#000" stroke-width="4.2"/>
<text x="122.60" y="28.75" text-anchor="end">2500</text>
<line x1="154.50" y1="351.00" x2="154.50" y2="361.50" stroke="#000" stroke-width="3.4"/>
<text x="154.50" y="397.7" text-anchor="middle">0</text>
<line x1="250.50" y1="351.00" x2="250.50" y2="361.50" stroke="#000" stroke-width="3.4"/>
<text x="250.50" y="397.7" text-anchor="middle">100</text>
<line x1="346.50" y1="351.00" x2="346.50" y2="361.50" stroke="#000" stroke-width="3.4"/>
<text x="346.50" y="397.7" text-anchor="middle">200</text>
<line x1="442.50" y1="351.00" x2="442.50" y2="361.50" stroke="#000" stroke-width="3.4"/>
<text x="442.50" y="397.7" text-anchor="middle">300</text>
<line x1="538.50" y1="351.00" x2="538.50" y2="361.50" stroke="#000" stroke-width="3.4"/>
<text x="538.50" y="397.7" text-anchor="middle">400</text>
<text x="344.90" y="431.6" text-anchor="middle" font-size="32">Extension / nm</text>
<text x="163.20" y="48.7" font-size="33">(A)</text>
<text transform="translate(26.10,181.6) rotate(-90)" text-anchor="middle">Force / pN</text>
<rect x="749.50" y="11.90" width="405.50" height="339.10" fill="none" stroke="#000" stroke-width="3.7"/>
<line x1="738.50" y1="332.00" x2="749.50" y2="332.00" stroke="#000" stroke-width="4.2"/>
<text x="733.60" y="343.40" text-anchor="end">0</text>
<line x1="738.50" y1="269.28" x2="749.50" y2="269.28" stroke="#000" stroke-width="4.2"/>
<text x="733.60" y="280.68" text-anchor="end">500</text>
<line x1="738.50" y1="206.56" x2="749.50" y2="206.56" stroke="#000" stroke-width="4.2"/>
<text x="733.60" y="217.96" text-anchor="end">1000</text>
<line x1="738.50" y1="143.84" x2="749.50" y2="143.84" stroke="#000" stroke-width="4.2"/>
<text x="733.60" y="155.24" text-anchor="end">1500</text>
<line x1="738.50" y1="81.12" x2="749.50" y2="81.12" stroke="#000" stroke-width="4.2"/>
<text x="733.60" y="92.52" text-anchor="end">2000</text>
<line x1="738.50" y1="18.40" x2="749.50" y2="18.40" stroke="#000" stroke-width="4.2"/>
<text x="733.60" y="29.80" text-anchor="end">2500</text>
<line x1="769.30" y1="351.00" x2="769.30" y2="361.50" stroke="#000" stroke-width="3.4"/>
<text x="769.30" y="397.7" text-anchor="middle">0.0</text>
<line x1="877.70" y1="351.00" x2="877.70" y2="361.50" stroke="#000" stroke-width="3.4"/>
<text x="877.70" y="397.7" text-anchor="middle">0.4</text>
<line x1="986.20" y1="351.00" x2="986.20" y2="361.50" stroke="#000" stroke-width="3.4"/>
<text x="986.20" y="397.7" text-anchor="middle">0.8</text>
<line x1="1094.60" y1="351.00" x2="1094.60" y2="361.50" stroke="#000" stroke-width="3.4"/>
<text x="1094.60" y="397.7" text-anchor="middle">1.2</text>
<line x1="823.50" y1="351.00" x2="823.50" y2="356.80" stroke="#000" stroke-width="4.2"/>
<line x1="932.00" y1="351.00" x2="932.00" y2="356.80" stroke="#000" stroke-width="4.2"/>
<line x1="1040.40" y1="351.00" x2="1040.40" y2="356.80" stroke="#000" stroke-width="4.2"/>
<line x1="1148.80" y1="351.00" x2="1148.80" y2="356.80" stroke="#000" stroke-width="4.2"/>
<text x="956.70" y="431.6" text-anchor="middle">Normalized Extension</text>
<text x="775.00" y="48.7" font-size="33">(B)</text>
<text transform="translate(637.10,181.6) rotate(-90)" text-anchor="middle">Force / pN</text>
</svg>
</body></html>
